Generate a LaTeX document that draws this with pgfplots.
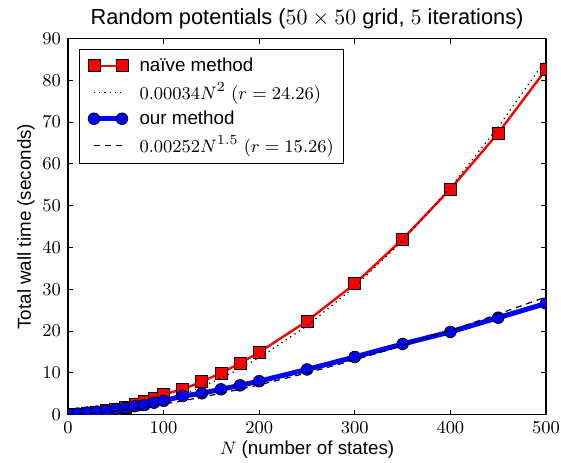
\documentclass[border=0pt]{standalone}
\usepackage{fontspec}
\setmainfont{Liberation Sans}
\usepackage{pgfplots}
\pgfplotsset{compat=1.18}

\newcommand{\lblfont}{\fontsize{9.4}{11}\selectfont}

\begin{document}
\begin{tikzpicture}
\begin{axis}[
  width=239pt, height=188pt, scale only axis,
  xmin=0, xmax=500, ymin=0, ymax=90,
  xtick={0,100,...,500}, ytick={0,10,...,90},
  tick align=inside, tick pos=both, major tick length=2.5pt,
  axis line style={line width=0.8pt},
  every tick/.style={black, line width=0.5pt},
  tick label style={font=\lblfont},
  label style={font=\lblfont},
  ylabel shift=-3pt, xlabel shift=-3pt,
  title style={font=\fontsize{10.9}{13}\selectfont, yshift=-4.5pt},
  title={Random potentials ($50\times 50$ grid, $5$ iterations)},
  xlabel={$N$ (number of states)},
  ylabel={Total wall time (seconds)},
  clip marker paths=true,
  legend style={at={(0,1)}, anchor=north west, xshift=5.5pt, yshift=-5.2pt,
    draw=black, line width=0.5pt, font=\lblfont, cells={anchor=west},
    row sep=0.15pt},
  legend image code/.code={%
    \path (0pt,0pt) (22.5pt,0pt);
    \draw[mark repeat=1,#1] plot coordinates {(3pt,0pt) (17pt,0pt)};},
]
% naive method
\addplot[red, line width=1.2pt, mark=square*, mark size=3pt,
  mark options={fill=red, draw=black, line width=0.4pt, solid}] coordinates {
  (2,0.02) (10,0.12) (20,0.3) (30,0.55) (40,0.9) (50,1.3) (60,1.75) (70,2.5)
  (80,3.1) (90,3.9) (100,4.85) (120,6.05) (140,7.9) (160,9.95) (180,12.3)
  (200,14.9) (250,22.4) (300,31.3) (350,42.0) (400,54.0) (450,67.4) (500,82.6)
};
\addlegendentry{naïve method}
% fit 0.00034 N^2
\addplot[black, dotted, line width=0.6pt] coordinates {
  (0,0) (10,0.034) (20,0.136) (30,0.306) (40,0.544) (50,0.85) (60,1.224)
  (70,1.666) (80,2.176) (90,2.754) (100,3.4) (120,4.896) (140,6.664)
  (160,8.704) (180,11.016) (200,13.6) (250,21.25) (300,30.6) (350,41.65)
  (400,54.4) (450,68.85) (500,85.0)
};
\addlegendentry{$0.00034N^2\ (r=24.26)$}
% our method
\addplot[blue, line width=2.5pt, mark=*, mark size=2.9pt,
  mark options={fill=blue, draw=black, line width=0.4pt, solid}] coordinates {
  (2,0.05) (10,0.25) (20,0.5) (30,0.72) (40,1.0) (50,1.35) (60,1.6) (70,2.0)
  (80,2.3) (90,2.85) (100,3.3) (120,4.45) (140,5.1) (160,6.05) (180,7.0)
  (200,8.0) (250,10.8) (300,13.8) (350,16.9) (400,19.8) (450,23.2) (500,26.6)
};
\addlegendentry{our method}
% fit 0.00252 N^1.5
\addplot[black, dash pattern=on 3pt off 2.5pt, line width=0.6pt] coordinates {
  (0,0) (10,0.0797) (20,0.2254) (30,0.414) (40,0.6375) (50,0.891) (60,1.171)
  (70,1.476) (80,1.803) (90,2.152) (100,2.52) (120,3.313) (140,4.174)
  (160,5.100) (180,6.086) (200,7.128) (250,9.961) (300,13.094) (350,16.501)
  (400,20.16) (450,24.056) (500,28.175)
};
\addlegendentry{$0.00252N^{1.5}\ (r=15.26)$\hspace{6pt}}
\end{axis}
\pgfresetboundingbox
\path[use as bounding box] (-34pt,-23.7pt) rectangle (246.5pt,207.3pt);
\end{tikzpicture}
\end{document}
